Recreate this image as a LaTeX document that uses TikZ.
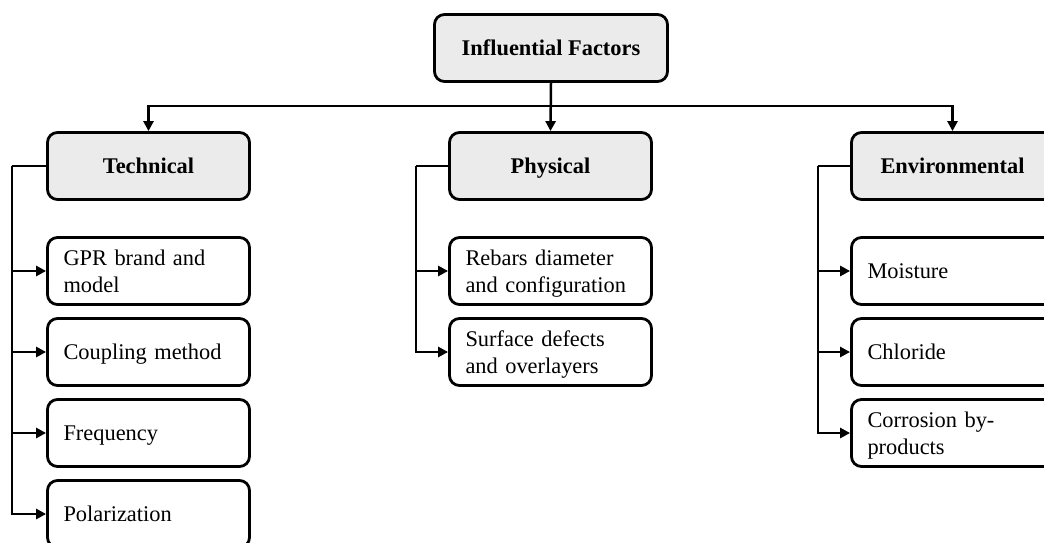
\documentclass[tikz,border=0pt]{standalone}
\usepackage{fontspec}
\setmainfont{Liberation Serif}
\usetikzlibrary{arrows.meta}

\definecolor{headfill}{HTML}{EBEBEB}

\tikzset{
  % struts keep every label centred on its capitals, whatever its letters
  capstrut/.style={execute at begin node={\rule{0pt}{20pt}},
    execute at end node={\rule[-5pt]{0pt}{5pt}}},
  headbox/.style={draw, line width=2.8pt, rounded corners=10pt, fill=headfill,
    minimum height=67pt, inner sep=0pt, capstrut,
    font=\fontsize{22.4}{27}\selectfont\bfseries},
  groupbox/.style={headbox, minimum width=202pt},
  itembox/.style={draw, line width=2.8pt, rounded corners=10pt, fill=white,
    minimum height=67pt, text width=170pt, inner xsep=16pt, inner ysep=0pt,
    align=left, capstrut, font=\fontsize{22.4}{27}\selectfont},
  link/.style={line width=2.5pt, -{Triangle[length=10pt,width=10pt]}},
  wire/.style={line width=2.5pt}
}

\begin{document}
\begin{tikzpicture}[x=1pt,y=-1pt]
  \useasboundingbox (0,0) rectangle (1044,543);
  \clip (0,0) rectangle (1044,543);

  % top node and the three category headings
  \node[headbox, minimum width=233pt] (root) at (551,48) {Influential Factors};
  \node[groupbox] (tech) at (148.5,166) {Technical};
  \node[groupbox] (phys) at (550.5,166) {Physical};
  \node[groupbox] (env)  at (952.5,166) {Environmental};

  % technical factors
  \node[itembox] (gpr)  at (148.5,271) {GPR brand and\\model};
  \node[itembox] (coup) at (148.5,352) {Coupling method};
  \node[itembox] (freq) at (148.5,433) {Frequency};
  \node[itembox] (pol)  at (148.5,514) {Polarization};

  % physical factors
  \node[itembox] (rebar) at (550.5,271) {Rebars diameter\\and configuration};
  \node[itembox] (surf)  at (550.5,352) {Surface defects\\and overlayers};

  % environmental factors
  \node[itembox] (moist) at (952.5,271) {Moisture};
  \node[itembox] (chlor) at (952.5,352) {Chloride};
  \node[itembox] (corr)  at (952.5,433) {Corrosion by-\\products};

  % distribution bus under the top node
  \coordinate (bus) at (root.south |- 0,106);
  \draw[link] (root.south) -- (phys.north);
  \draw[link] (bus) -| (tech.north);
  \draw[link] (bus) -| (env.north);

  % side trunks feeding each list
  \coordinate (tk) at ([xshift=-34pt]tech.west);
  \coordinate (pk) at ([xshift=-32pt]phys.west);
  \coordinate (ek) at ([xshift=-32pt]env.west);

  \draw[wire] (tech.west) -- (tk);
  \foreach \c in {gpr,coup,freq,pol} \draw[link] (tk) |- (\c.west);

  \draw[wire] (phys.west) -- (pk);
  \foreach \c in {rebar,surf} \draw[link] (pk) |- (\c.west);

  \draw[wire] (env.west) -- (ek);
  \foreach \c in {moist,chlor,corr} \draw[link] (ek) |- (\c.west);
\end{tikzpicture}
\end{document}
